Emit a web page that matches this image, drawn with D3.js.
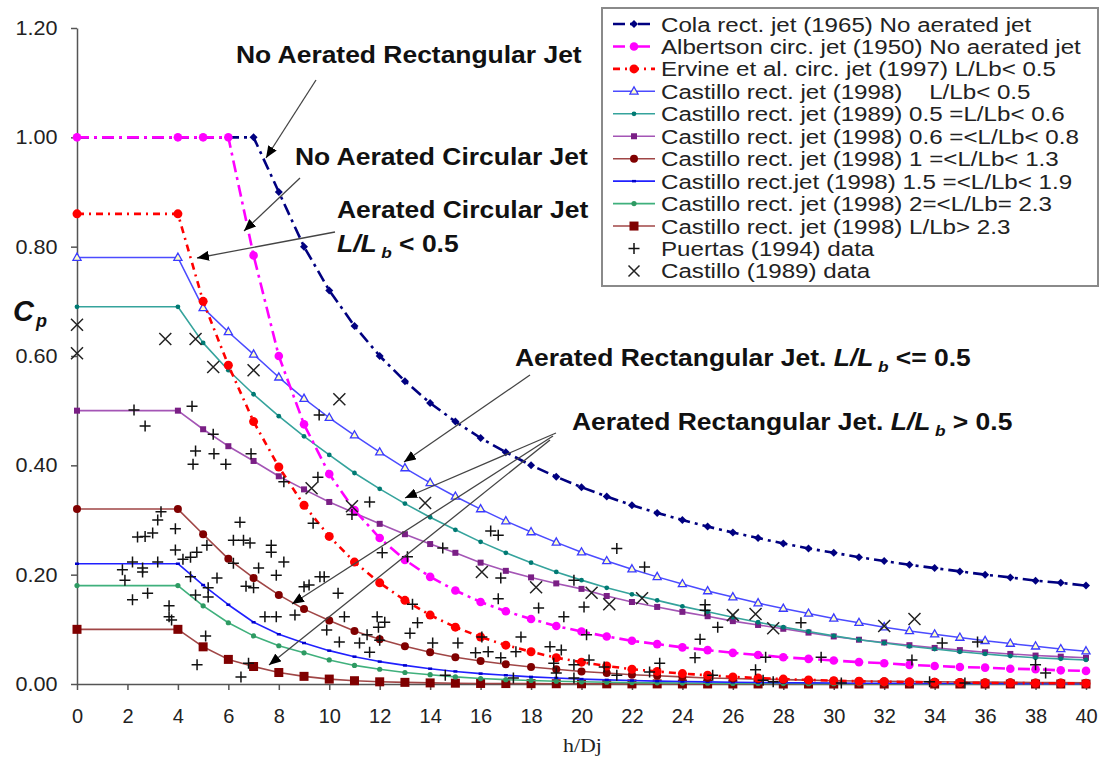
<!DOCTYPE html>
<html>
<head>
<meta charset="utf-8">
<script src="https://cdnjs.cloudflare.com/ajax/libs/d3/7.8.5/d3.min.js"></script>
<style>
  body { margin: 0; background: #fff; }
  svg { display: block; font-family: "Liberation Sans", Arial, sans-serif; }
</style>
</head>
<body>
<svg id="chart" width="1102" height="758"></svg>
<script>
// ---- data ----
var hCola = [0,7,8,9,10,11,12,13,14,15,16,17,18,19,20,21,22,23,24,25,26,27,28,29,30,31,32,33,34,35,36,37,38,39,40];
var hGrid = [0,4,5,6,7,8,9,10,11,12,13,14,15,16,17,18,19,20,21,22,23,24,25,26,27,28,29,30,31,32,33,34,35,36,37,38,39,40];

var cpCola = [1.00,1.00,0.90,0.80,0.72,0.655,0.60,0.554,0.514,0.48,0.45,0.424,0.40,0.379,0.36,0.343,0.327,0.313,0.30,0.288,0.277,0.267,0.257,0.248,0.24,0.232,0.225,0.218,0.212,0.206,0.20,0.195,0.189,0.185,0.18];
var cpAlbertson = [1,1,1,1,0.784,0.600,0.475,0.384,0.318,0.267,0.227,0.196,0.171,0.150,0.133,0.119,0.106,0.096,0.087,0.079,0.073,0.067,0.062,0.057,0.053,0.049,0.046,0.043,0.040,0.038,0.035,0.033,0.031,0.030,0.028,0.027,0.025,0.024];
var cpErvine = [0.86,0.86,0.70,0.583,0.48,0.397,0.327,0.27,0.223,0.185,0.153,0.126,0.104,0.086,0.071,0.059,0.048,0.040,0.033,0.027,0.023,0.019,0.016,0.013,0.011,0.009,0.0075,0.006,0.005,0.0042,0.0035,0.003,0.0025,0.002,0.0017,0.0014,0.0012,0.001];
var cpCast05 = [0.78,0.78,0.688,0.644,0.603,0.561,0.522,0.487,0.455,0.424,0.395,0.368,0.343,0.320,0.298,0.278,0.259,0.241,0.225,0.210,0.196,0.183,0.170,0.159,0.148,0.138,0.129,0.120,0.112,0.104,0.097,0.091,0.085,0.079,0.074,0.069,0.064,0.060];
var cpCast06 = [0.69,0.69,0.624,0.574,0.530,0.490,0.453,0.419,0.386,0.357,0.330,0.305,0.282,0.260,0.240,0.222,0.205,0.190,0.176,0.164,0.153,0.142,0.132,0.122,0.113,0.104,0.096,0.088,0.081,0.075,0.069,0.064,0.059,0.055,0.051,0.048,0.046,0.044];
var cpCast08 = [0.50,0.50,0.466,0.435,0.408,0.380,0.356,0.333,0.313,0.293,0.274,0.256,0.240,0.222,0.207,0.195,0.184,0.174,0.161,0.150,0.141,0.132,0.124,0.115,0.108,0.101,0.094,0.087,0.081,0.076,0.071,0.066,0.062,0.058,0.055,0.052,0.050,0.048];
var cpCast13 = [0.32,0.32,0.274,0.229,0.194,0.163,0.137,0.116,0.097,0.082,0.069,0.058,0.049,0.042,0.036,0.031,0.027,0.023,0.020,0.017,0.015,0.013,0.011,0.010,0.009,0.008,0.007,0.006,0.0055,0.005,0.0045,0.004,0.0037,0.0034,0.0031,0.0028,0.0026,0.0024];
var cpCast19 = [0.22,0.22,0.181,0.145,0.113,0.091,0.075,0.061,0.050,0.041,0.034,0.028,0.023,0.019,0.016,0.013,0.011,0.009,0.0075,0.0063,0.0053,0.0045,0.0038,0.0032,0.0027,0.0023,0.002,0.0017,0.0015,0.0013,0.0011,0.001,0.0009,0.0008,0.0007,0.0006,0.0005,0.0005];
var cpCast23 = [0.18,0.18,0.143,0.112,0.088,0.070,0.057,0.044,0.034,0.027,0.021,0.017,0.013,0.010,0.008,0.0065,0.005,0.004,0.0032,0.0026,0.0021,0.0017,0.0014,0.0011,0.0009,0.0008,0.0006,0.0005,0.0004,0.0004,0.0003,0.0003,0.0002,0.0002,0.0002,0.0001,0.0001,0.0001];
var cpCastGt = [0.10,0.10,0.068,0.045,0.032,0.021,0.014,0.009,0.006,0.004,0.003,0.002,0.0015,0.001,0.0008,0.0006,0.0005,0.0004,0.0003,0.0002,0.0002,0.0001,0.0001,0.0001,0.0001,0,0,0,0,0,0,0,0,0,0,0,0,0];

var puertas = [
  [2.26,0.501],[2.7,0.472],[4.56,0.508],[5.4,0.457],[4.7,0.426],[5.43,0.421],[6.9,0.421],[4.6,0.402],[5.9,0.402],
  [8.2,0.370],[9.6,0.492],[9.55,0.378],
  [3.33,0.315],[3.2,0.300],[3.9,0.284],[2.4,0.269],[2.7,0.270],[3.0,0.276],[3.9,0.245],[2.2,0.223],[3.2,0.223],
  [1.8,0.209],[2.6,0.205],[2.6,0.212],[1.9,0.190],[2.8,0.166],[2.2,0.154],[3.65,0.143],[3.65,0.123],[3.75,0.117],
  [4.75,0.241],[4.5,0.232],[4.2,0.228],[4.5,0.196],[4.7,0.163],[5.2,0.159],[5.2,0.176],[5.55,0.194],[5.15,0.254],
  [6.46,0.296],[6.2,0.263],[6.6,0.263],[6.86,0.258],[6.2,0.221],[7.2,0.212],[6.7,0.179],[7.0,0.176],
  [5.1,0.088],[4.76,0.035],[6.5,0.013],[7.7,0.254],[7.7,0.241],[7.45,0.123],[7.9,0.123],[6.8,0.038],
  [8.2,0.223],[7.9,0.199],[9.36,0.294],[11.6,0.333],[9.63,0.196],[9.8,0.196],[9.2,0.181],[9.0,0.178],[10.35,0.166],
  [8.64,0.126],[10.6,0.123],[9.9,0.099],[10.4,0.077],[11.2,0.075],[11.5,0.090],[11.6,0.058],[11.9,0.123],[12.2,0.113],
  [11.95,0.104],[12.0,0.080],[13.2,0.093],[13.5,0.112],[13.3,0.146],[14.1,0.075],[15.1,0.075],[14.6,0.016],
  [12.1,0.240],[13.1,0.233],[10.9,0.310],[14.5,0.249],[16.4,0.280],[16.7,0.272],
  [21.4,0.248],[22.5,0.214],[16.8,0.194],[19.7,0.190],[16.7,0.156],[18.3,0.139],[20.1,0.141],[19.3,0.123],[20.2,0.090],
  [16.05,0.086],[17.6,0.086],[18.75,0.068],[15.8,0.057],[16.3,0.059],[17.4,0.059],[16.8,0.048],[18.9,0.038],[19.7,0.035],
  [20.9,0.031],[19.0,0.020],[23.1,0.038],[22.7,0.022],[21.4,0.016],[17.3,0.011],[19.7,0.011],
  [19.2,0.062],[20.3,0.044],[24.9,0.145],[24.9,0.135],[25.4,0.104],[24.7,0.082],[24.5,0.048],[28.7,0.112],[27.3,0.049],
  [26.9,0.026],[29.5,0.049],[34.3,0.075],[35.7,0.077],[33.1,0.044],[38.0,0.035],[38.4,0.020],[25.2,0.016],[27.2,0.007],
  [30.3,0.002],[33.8,0.004],[35.2,0.002],[27.6,0.004]
];
var castillo89 = [
  [0,0.657],[0,0.605],[3.5,0.631],[4.7,0.631],[5.4,0.580],[7.0,0.574],[10.4,0.521],[9.3,0.358],[10.9,0.325],[13.8,0.331],
  [16.05,0.205],[18.2,0.177],[20.4,0.167],[21.1,0.146],[22.4,0.157],[26.0,0.126],[26.9,0.128],[27.6,0.102],[32.0,0.106],[33.2,0.119]
];

var xTicks = [0,2,4,6,8,10,12,14,16,18,20,22,24,26,28,30,32,34,36,38,40];
var yTicks = [0,0.2,0.4,0.6,0.8,1.0,1.2];

// ---- series styles ----
var series = [
  {name:"Castillo rect. jet (1998) L/Lb> 2.3", h:hGrid, cp:cpCastGt, line:"#a04646", mk:"square", mc:"#800000", w:1.6, s:4.5},
  {name:"Castillo rect. jet (1998) 2=<L/Lb= 2.3", h:hGrid, cp:cpCast23, line:"#3fb07c", mk:"circle", mc:"#2e9a62", w:1.6, s:2.6},
  {name:"Castillo rect.jet (1998) 1.5 =<L/Lb< 1.9", h:hGrid, cp:cpCast19, line:"#2020ff", mk:"dash", mc:"#0000cc", w:1.6, s:2},
  {name:"Castillo rect. jet (1998) 1 =<L/Lb< 1.3", h:hGrid, cp:cpCast13, line:"#a04646", mk:"circle", mc:"#800000", w:1.6, s:4},
  {name:"Castillo rect. jet (1998) 0.6 =<L/Lb< 0.8", h:hGrid, cp:cpCast08, line:"#a455b5", mk:"square", mc:"#7a1f85", w:1.6, s:3},
  {name:"Castillo rect. jet (1989) 0.5 =L/Lb< 0.6", h:hGrid, cp:cpCast06, line:"#35a39c", mk:"circle", mc:"#007a73", w:1.6, s:2.4},
  {name:"Castillo rect. jet (1998)    L/Lb< 0.5", h:hGrid, cp:cpCast05, line:"#4b4bff", mk:"triangle", mc:"#3a3aff", w:1.5, s:4.5},
  {name:"Ervine et al. circ. jet (1997) L/Lb< 0.5", h:hGrid, cp:cpErvine, line:"#ff0000", mk:"circle", mc:"#ff0000", w:2.6, s:4.5, dash:"7,5,2,5"},
  {name:"Cola rect. jet (1965) No aerated jet", h:hCola, cp:cpCola, line:"#000080", mk:"diamond", mc:"#000080", w:2.6, s:4, dash:"12,5,3,5"},
  {name:"Albertson circ. jet (1950) No aerated jet", h:hGrid, cp:cpAlbertson, line:"#ff00ff", mk:"circle", mc:"#ff00ff", w:2.6, s:4.3, dash:"12,5,3,5"}
];
var legendOrder = [8,9,7,6,5,4,3,2,1,0];

var svg = d3.select("#chart");
svg.append("rect").attr("width",1102).attr("height",758).attr("fill","#fff");

var x = d3.scaleLinear().domain([0,40]).range([77,1086]);
var y = d3.scaleLinear().domain([0,1.2]).range([684,28]);

// arrow head
svg.append("defs").append("marker")
  .attr("id","arr").attr("markerUnits","userSpaceOnUse")
  .attr("markerWidth",12).attr("markerHeight",10)
  .attr("refX",12).attr("refY",5).attr("orient","auto")
  .append("path").attr("d","M0,0 L12,5 L0,10 Z").attr("fill","#000");

function marker(g, type, cx, cy, s, col) {
  if (type == "circle") {
    g.append("circle").attr("cx",cx).attr("cy",cy).attr("r",s).attr("fill",col);
  } else if (type == "square") {
    g.append("rect").attr("x",cx-s).attr("y",cy-s).attr("width",2*s).attr("height",2*s).attr("fill",col);
  } else if (type == "diamond") {
    g.append("path").attr("d","M"+cx+","+(cy-s)+"L"+(cx+s)+","+cy+"L"+cx+","+(cy+s)+"L"+(cx-s)+","+cy+"Z").attr("fill",col);
  } else if (type == "triangle") {
    g.append("path").attr("d","M"+cx+","+(cy-s)+"L"+(cx+s*0.9)+","+(cy+s*0.6)+"L"+(cx-s*0.9)+","+(cy+s*0.6)+"Z")
      .attr("fill","#ffffc8").attr("stroke",col).attr("stroke-width",1.3);
  } else if (type == "dash") {
    g.append("line").attr("x1",cx-s).attr("x2",cx+s).attr("y1",cy).attr("y2",cy).attr("stroke",col).attr("stroke-width",2.5);
  } else if (type == "plus") {
    g.append("path").attr("d","M"+(cx-s)+","+cy+"H"+(cx+s)+"M"+cx+","+(cy-s)+"V"+(cy+s))
      .attr("stroke","#111").attr("stroke-width",1.5).attr("fill","none");
  } else if (type == "cross") {
    g.append("path").attr("d","M"+(cx-s)+","+(cy-s)+"L"+(cx+s)+","+(cy+s)+"M"+(cx+s)+","+(cy-s)+"L"+(cx-s)+","+(cy+s))
      .attr("stroke","#222").attr("stroke-width",1.5).attr("fill","none");
  }
}

// axes
var gx = svg.append("g").attr("transform","translate(0,684)")
  .call(d3.axisBottom(x).tickValues(xTicks).tickSize(6).tickSizeOuter(0).tickPadding(19).tickFormat(d3.format("d")));
var gy = svg.append("g").attr("transform","translate(77,0)")
  .call(d3.axisLeft(y).tickValues(yTicks).tickSize(6).tickSizeOuter(0).tickPadding(12).tickFormat(d3.format(".2f")));
[gx, gy].forEach(function(g){
  g.select(".domain").attr("stroke","#555").attr("stroke-width",1.5);
  g.selectAll(".tick line").attr("stroke","#555").attr("stroke-width",1.5);
  g.selectAll(".tick text").attr("font-size",20).attr("fill","#222")
    .attr("font-family","Liberation Sans, Arial, sans-serif");
});
gy.selectAll(".tick text").attr("transform","scale(1.08,1)");

// series
var lineGen = d3.line().x(function(d){ return x(d[0]); }).y(function(d){ return y(d[1]); });
series.forEach(function(s){
  var pts = s.h.map(function(h,i){ return [h, s.cp[i]]; });
  svg.append("path").datum(pts).attr("d",lineGen).attr("fill","none")
    .attr("stroke",s.line).attr("stroke-width",s.w).attr("stroke-dasharray",s.dash || null)
    .attr("stroke-linejoin","round");
  var g = svg.append("g");
  pts.forEach(function(p){ marker(g, s.mk, x(p[0]), y(p[1]), s.s, s.mc); });
});

// scatter data
var gs = svg.append("g");
puertas.forEach(function(p){ marker(gs, "plus", x(p[0]), y(p[1]), 5.5); });
castillo89.forEach(function(p){ marker(gs, "cross", x(p[0]), y(p[1]), 6); });

// annotations
function stretchText(px, py, sx) {
  return svg.append("text").attr("transform","translate("+px+","+py+") scale("+sx+",1)");
}
function boldNote(px, py, str) {
  return stretchText(px, py, 1.15).attr("font-size",23).attr("font-weight","bold").attr("fill","#111").text(str);
}
function ratioNote(t, tail) {
  t.append("tspan").attr("font-style","italic").text("L/L");
  t.append("tspan").attr("font-size",15).attr("font-style","italic").attr("dx",4).attr("dy",6).text("b");
  t.append("tspan").attr("dy",-6).text(tail);
}
boldNote(236, 63, "No Aerated Rectangular Jet");
boldNote(295, 165, "No Aerated Circular Jet");
boldNote(337, 218, "Aerated Circular Jet");
ratioNote(boldNote(337, 252, ""), " < 0.5");
ratioNote(boldNote(515, 366, "Aerated Rectangular Jet. "), " <= 0.5");
ratioNote(boldNote(572, 430, "Aerated Rectangular Jet. "), " > 0.5");

var arrows = [
  [316,80,266,158],[300,178,244,231],[335,232,197,258],[530,375,404,462],
  [556,433,405,498],[553,436,292,604],[550,440,269,665]
];
arrows.forEach(function(a){
  svg.append("line").attr("x1",a[0]).attr("y1",a[1]).attr("x2",a[2]).attr("y2",a[3])
    .attr("stroke","#444").attr("stroke-width",1.3).attr("marker-end","url(#arr)");
});

// axis titles
var cp = svg.append("text").attr("x",13).attr("y",321).attr("font-weight","bold").attr("font-style","italic").attr("fill","#111");
cp.append("tspan").attr("font-size",29).text("C");
cp.append("tspan").attr("font-size",18).attr("dx",2).attr("dy",6).text("p");
stretchText(563, 752, 1.15).attr("font-family","Liberation Serif, Times New Roman, serif")
  .attr("font-size",19).attr("fill","#222").text("h/Dj");

// legend
var lg = svg.append("g");
lg.append("rect").attr("x",602).attr("y",8).attr("width",496).attr("height",278)
  .attr("fill","#fff").attr("stroke","#8a8a8a").attr("stroke-width",2);
var rows = legendOrder.map(function(i){ return series[i]; });
rows.push({name:"Puertas (1994) data", mk:"plus"});
rows.push({name:"Castillo (1989) data", mk:"cross"});
rows.forEach(function(s, i){
  var cy = 24 + i*22.45;
  if (s.line) {
    lg.append("line").attr("x1",613).attr("x2",655).attr("y1",cy).attr("y2",cy)
      .attr("stroke",s.line).attr("stroke-width",s.w).attr("stroke-dasharray",s.dash || null);
    marker(lg, s.mk, 634, cy, Math.min(s.s,4.5), s.mc);
  } else {
    marker(lg, s.mk, 634, cy, 5.5);
  }
  lg.append("text").attr("transform","translate(661,"+(cy+7.5)+") scale(1.15,1)")
    .attr("font-size",21).attr("fill","#222").style("white-space","pre").text(s.name);
});
</script>
</body>
</html>
